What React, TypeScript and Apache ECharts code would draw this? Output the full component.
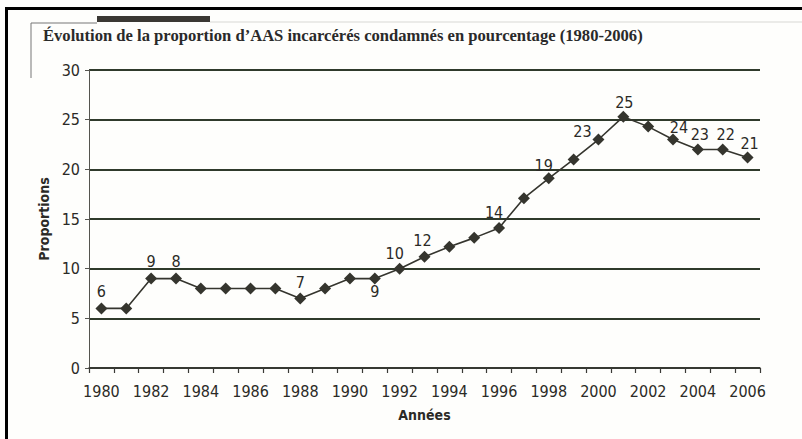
import React, { useEffect, useRef } from "react";
import * as echarts from "echarts";

const TITLE = "Évolution de la proportion d\u2019AAS incarcérés condamnés en pourcentage (1980-2006)";
const X_NAME = "Années";
const Y_NAME = "Proportions";

const years = [
  "1980", "1981", "1982", "1983", "1984", "1985", "1986", "1987", "1988", "1989",
  "1990", "1991", "1992", "1993", "1994", "1995", "1996", "1997", "1998", "1999",
  "2000", "2001", "2002", "2003", "2004", "2005", "2006",
];
const proportions = [
  6, 6, 9, 9, 8, 8, 8, 8, 7, 8,
  9, 9, 10, 11.2, 12.2, 13.1, 14.1, 17.1, 19.1, 21,
  23, 25.3, 24.3, 23, 22, 22, 21.2,
];
// printed value labels (as they appear on the original figure)
const pointLabels = [
  "6", "", "9", "8", "", "", "", "", "7", "",
  "", "9", "10", "12", "", "", "14", "", "19", "",
  "23", "25", "", "24", "23", "22", "21",
];

const yMin = 0;
const yMax = 30;
const yInterval = 5;

// label placement offsets (styling only)
const labelOffsets: Record<number, [number, number]> = {
  0: [0, -17], 2: [0, -17], 3: [0, -17], 8: [0, -16], 11: [0, 13],
  12: [-5, -15], 13: [-2, -16], 16: [-5, -15], 18: [-5, -13], 20: [-16, -8],
  21: [1, -14], 23: [6, -12], 24: [2, -15], 25: [3, -15], 26: [2, -14],
};

const NARROW = "'DejaVu Sans Condensed', 'Liberation Sans Narrow', sans-serif";
const INK = "#2b2a26";
const GRID = "#2f3a2b";

export default function App() {
  const ref = useRef<HTMLDivElement>(null);
  useEffect(() => {
    if (!ref.current) return;
    const chart = echarts.init(ref.current, undefined, { renderer: "svg" });
    const data = proportions.map((v, i) => {
      const txt = pointLabels[i];
      if (!txt) return { value: v };
      return {
        value: v,
        label: {
          show: true,
          formatter: txt,
          position: "inside",
          offset: labelOffsets[i] || [0, -16],
        },
      };
    });
    chart.setOption({
      animation: false,
      backgroundColor: "#fefefc",
      title: {
        text: TITLE,
        left: 38,
        top: 22,
        textStyle: {
          fontFamily: "'Liberation Serif', 'DejaVu Serif', serif",
          fontWeight: "bold",
          fontSize: 16.6,
          color: "#2a2a2a",
        },
      },
      grid: { left: 89, right: 42, top: 70, bottom: 71, containLabel: false },
      xAxis: {
        type: "category",
        data: years,
        boundaryGap: true,
        name: X_NAME,
        nameLocation: "middle",
        nameGap: 40,
        nameTextStyle: { fontFamily: NARROW, fontWeight: "bold", fontSize: 14, color: INK },
        axisLine: { lineStyle: { color: "#3a3a36", width: 1.5 } },
        axisTick: { show: true, interval: 0, length: 5, lineStyle: { color: "#3a3a36", width: 1.2 } },
        axisLabel: {
          interval: 1,
          margin: 15,
          fontFamily: NARROW,
          fontSize: 16,
          color: INK,
        },
        splitLine: { show: false },
      },
      yAxis: {
        type: "value",
        min: yMin,
        max: yMax,
        interval: yInterval,
        name: Y_NAME,
        nameLocation: "middle",
        nameGap: 36,
        nameRotate: 90,
        nameTextStyle: { fontFamily: NARROW, fontWeight: "bold", fontSize: 14, color: INK },
        axisLine: { show: true, lineStyle: { color: "#55554f", width: 1 } },
        axisTick: { show: true, length: 4, lineStyle: { color: "#55554f" } },
        axisLabel: { fontFamily: NARROW, fontSize: 16, color: INK, margin: 9 },
        splitLine: { show: true, lineStyle: { color: GRID, width: 2 } },
      },
      series: [
        {
          type: "line",
          data,
          symbol: "diamond",
          symbolSize: 12,
          itemStyle: { color: "#35352e" },
          lineStyle: { color: "#35352e", width: 1.6 },
          label: {
            show: false,
            fontFamily: NARROW,
            fontSize: 16,
            color: INK,
          },
          z: 5,
        },
      ],
      graphic: [
        { type: "rect", shape: { x: 5, y: 7, width: 3, height: 432 }, style: { fill: "#000" }, silent: true },
        { type: "rect", shape: { x: 5, y: 7, width: 797, height: 3 }, style: { fill: "#000" }, silent: true },
        { type: "rect", shape: { x: 97, y: 16, width: 113, height: 6 }, style: { fill: "#3a3833" }, silent: true },
        { type: "line", shape: { x1: 31, y1: 23, x2: 97, y2: 23 }, style: { stroke: "#777", lineWidth: 1 }, silent: true },
        { type: "line", shape: { x1: 210, y1: 22, x2: 802, y2: 22 }, style: { stroke: "#d8d8d4", lineWidth: 1 }, silent: true },
        { type: "line", shape: { x1: 31, y1: 23, x2: 31, y2: 78 }, style: { stroke: "#777", lineWidth: 1 }, silent: true },
      ],
    });
    return () => chart.dispose();
  }, []);
  return <div ref={ref} style={{ width: 802, height: 439, position: "absolute", left: 0, top: 0 }} />;
}
